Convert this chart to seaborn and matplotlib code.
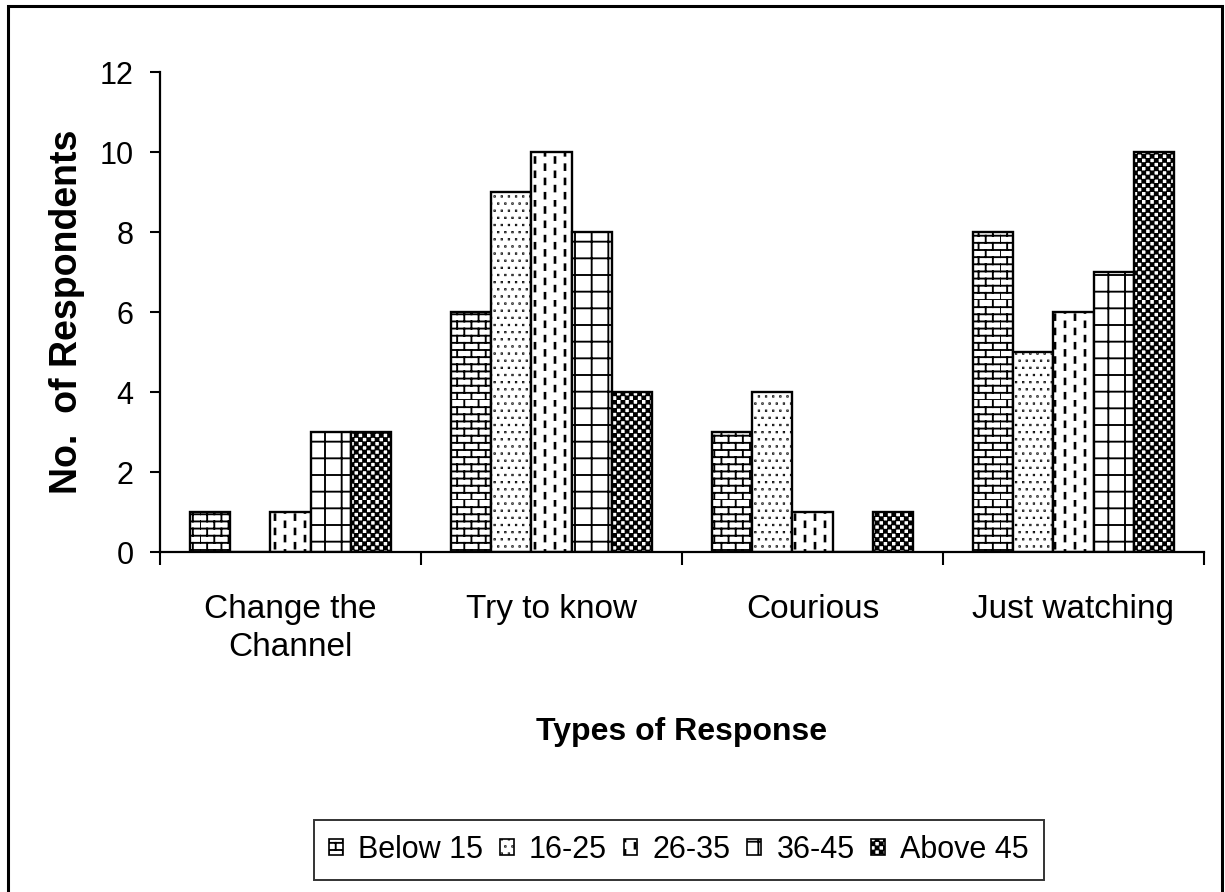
import numpy as np
import pandas as pd
import matplotlib
matplotlib.use("Agg")
import matplotlib.pyplot as plt
import matplotlib.hatch as mhatch
from matplotlib.path import Path
from matplotlib.patches import Patch, Rectangle
import seaborn as sns

# ---------------- data ----------------
categories = ["Change the\nChannel", "Try to know", "Courious", "Just watching"]
age_groups = ["Below 15", "16-25", "26-35", "36-45", "Above 45"]
below_15 = [1, 6, 3, 8]
age_16_25 = [0, 9, 4, 5]
age_26_35 = [1, 10, 1, 6]
age_36_45 = [3, 8, 0, 7]
above_45 = [3, 4, 1, 10]
y_ticks = [0, 2, 4, 6, 8, 10, 12]


# ---------------- custom hatch patterns (brick, dashed verticals, dots, checker) ----------------
MOVE, LINE, CLOSE = Path.MOVETO, Path.LINETO, Path.CLOSEPOLY


def _rect(v, c, x0, y0, x1, y1):
    v += [(x0, y0), (x1, y0), (x1, y1), (x0, y1), (x0, y0)]
    c += [MOVE, LINE, LINE, LINE, CLOSE]


class _CustomHatch(mhatch.HatchPatternBase):
    char = "?"

    def __init__(self, hatch, density):
        n = hatch.count(self.char) if hatch else 0
        if n:
            v, c = self.build()
            self.verts = np.array(v, dtype=float)
            self.codes = np.array(c, dtype=Path.code_type)
            self.num_vertices = len(self.verts)
        else:
            self.num_vertices = 0

    def set_vertices_and_codes(self, vertices, codes):
        vertices[:] = self.verts
        codes[:] = self.codes


class BrickHatch(_CustomHatch):
    char = "o"

    def build(self):
        R, B = 14, 7
        v, c = [], []
        for r in range(R):
            y0 = r / R
            v += [(0.0, y0), (1.0, y0)]
            c += [MOVE, LINE]
            for k in range(B):
                x = (k + 0.5 * (r % 2)) / B
                v += [(x, y0), (x, (r + 1) / R)]
                c += [MOVE, LINE]
        return v, c


class DashHatch(_CustomHatch):
    char = "O"

    def build(self):
        C, P = 10, 7
        w = 0.004
        v, c = [], []
        for col in range(C):
            x = (col + 0.5) / C
            off = 0.5 * (col % 2)
            for p in range(P):
                y0 = (p + off) / P + 0.1 / P
                _rect(v, c, x - w, y0, x + w, y0 + 0.4 / P)
        return v, c


class DotHatch(_CustomHatch):
    char = "."

    def build(self):
        N = 14
        s = 0.002
        v, c = [], []
        for r in range(N):
            for k in range(N):
                x = (k + 0.5 * (r % 2) + 0.25) / N
                y = (r + 0.5) / N
                _rect(v, c, x - s, y - s, x + s, y + s)
        return v, c


class CheckerHatch(_CustomHatch):
    char = "*"

    def build(self):
        N = 24
        ins = 0.006
        v, c = [], []
        for i in range(N):
            for j in range(N):
                if (i + j) % 2 == 0:
                    _rect(v, c, i / N + ins, j / N + ins, (i + 1) / N - ins, (j + 1) / N - ins)
        return v, c


mhatch._hatch_types = [mhatch.HorizontalHatch, mhatch.VerticalHatch,
                       mhatch.NorthEastHatch, mhatch.SouthEastHatch,
                       BrickHatch, DashHatch, DotHatch, CheckerHatch]

hatches = ["o", ".", "O", "+", "*"]

# ---------------- dataframe ----------------
series = [below_15, age_16_25, age_26_35, age_36_45, above_45]
rows = []
for g, vals in zip(age_groups, series):
    for cat, v in zip(categories, vals):
        rows.append({"Response": cat, "Age": g, "Count": v})
df = pd.DataFrame(rows)

# ---------------- plot ----------------
sns.set_style("white")
plt.rcParams["font.family"] = ["Liberation Sans", "DejaVu Sans"]
plt.rcParams["hatch.linewidth"] = 1.35
for k in ["text.color", "axes.labelcolor", "xtick.color", "ytick.color", "axes.edgecolor"]:
    plt.rcParams[k] = "black"

W, H = 1225, 892
fig = plt.figure(figsize=(W / 100, H / 100), dpi=100)
ax = fig.add_axes([160 / W, 1 - 552 / H, 1044 / W, 480 / H])

sns.barplot(data=df, x="Response", y="Count", hue="Age", order=categories,
            hue_order=age_groups, palette={g: "white" for g in age_groups},
            saturation=1, width=0.77, edgecolor="black", linewidth=1.7,
            legend=False, ax=ax)

for cont, h in zip(ax.containers, hatches):
    for bar in cont:
        bar.set_hatch(h)

ax.set_ylim(0, 12)
ax.set_xlim(-0.5, len(categories) - 0.5)
ax.set_yticks(y_ticks)
ax.set_yticklabels([str(t) for t in y_ticks])
ax.tick_params(axis="y", direction="out", length=7, width=1.5, pad=12,
               labelsize=22, left=True)

ax.set_xticks(np.arange(len(categories) + 1) - 0.5)
ax.set_xticklabels([])
ax.set_xticks(np.arange(len(categories)), minor=True)
ax.set_xticklabels(categories, minor=True, linespacing=1.3)
ax.tick_params(axis="x", which="major", direction="out", length=9, width=1.5, bottom=True)
ax.tick_params(axis="x", which="minor", length=0, pad=30, labelsize=24)

for s in ["top", "right"]:
    ax.spines[s].set_visible(False)
for s in ["left", "bottom"]:
    ax.spines[s].set_linewidth(1.6)
    ax.spines[s].set_color("black")

ax.set_xlabel("Types of Response", fontsize=23, fontweight="bold")
ax.xaxis.set_label_coords(0.5, -0.343)
ax.set_ylabel("No.  of Respondents", fontsize=27, fontweight="bold")
ax.yaxis.set_label_coords(-0.072, 0.5)

handles = [Patch(facecolor="white", edgecolor="black", hatch=h, linewidth=1.2)
           for h in hatches]
leg = fig.legend(handles, age_groups, loc="center", bbox_to_anchor=(679 / W, 1 - 850 / H),
                 ncol=5, frameon=True, fancybox=False, edgecolor="black", fontsize=22,
                 handlelength=0.45, handleheight=0.45, handletextpad=0.5,
                 columnspacing=0.55, borderpad=0.5, borderaxespad=0)
leg.get_frame().set_linewidth(1.4)

# outer chart border
fig.add_artist(Rectangle((8 / W, -0.1), (1222 - 8) / W, 1.1 - 6 / H,
                         transform=fig.transFigure, fill=False,
                         edgecolor="black", linewidth=2.2))

fig.savefig("out.png", dpi=100, facecolor="white")
